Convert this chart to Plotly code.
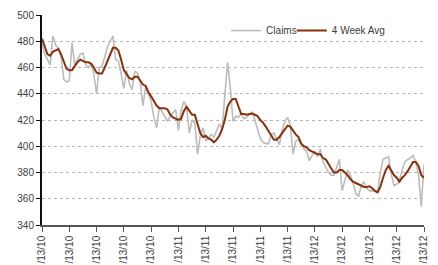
import plotly.graph_objects as go

tick_labels = ["/13/10"] * 5 + ["/13/11"] * 5 + ["/13/12"] * 5
y_ticks = [340, 360, 380, 400, 420, 440, 460, 480, 500]

claims = [478, 470, 466, 462, 484, 477, 475, 468, 451, 449,
          450, 479, 462, 466, 470, 471, 462, 460, 463, 455,
          440, 460, 461, 468, 476, 480, 484, 466, 465, 455,
          444, 458, 448, 443, 457, 456, 449, 431, 446, 440,
          434, 422, 414, 430, 426, 422, 419, 423, 426, 428,
          412, 428, 434, 430, 410, 420, 418, 394, 408, 414,
          404, 406, 409, 407, 412, 417, 413, 441, 464, 445,
          419, 423, 422, 425, 421, 422, 424, 426, 420, 412,
          406, 403, 402, 402, 409, 410, 406, 401, 412, 419,
          422, 416, 394, 404, 405, 401, 398, 396, 389, 393,
          396, 392, 398, 388, 384, 380, 378, 378, 384, 390,
          366, 374, 382, 378, 372, 364, 362, 370, 373, 368,
          366, 366, 366, 364, 380, 390, 391, 392, 379, 370,
          371, 374, 382, 388, 390, 391, 393, 388, 378, 354,
          386]

avg4 = [482, 476, 470, 469, 472, 473, 474, 470, 464, 459,
        458, 458, 461, 464, 466, 465, 464, 464, 463, 460,
        456, 455.5, 455.5, 460, 465, 471, 475, 475, 473, 466,
        458, 455, 452, 451, 453, 453, 450, 447, 446, 441,
        438, 434, 431, 429, 429, 429, 428, 424, 422, 421,
        420, 421, 427, 430, 427, 424, 424, 416, 410, 407,
        408, 406, 405, 403, 405, 408, 413, 420, 430, 434,
        436, 436, 430, 424.5, 424.5, 424, 424.5, 425, 424, 423,
        420, 418, 415, 412, 409, 405, 405, 407, 410, 413,
        415.7, 415, 412, 409, 407, 402, 400, 399, 397, 396,
        395, 394, 394, 391, 390, 386, 383, 380, 380, 382,
        382, 380, 378, 375, 373, 372, 371, 370, 369, 369,
        369.5, 368, 366, 365, 369, 376, 382, 385, 381, 378,
        376, 373, 376, 378, 381, 384, 388, 388, 385, 378,
        376]

weeks = list(range(len(claims)))
tick_pos = [weeks[i] for i in range(0, len(weeks), 10)]

fig = go.Figure()
fig.add_trace(go.Scatter(x=weeks, y=claims, mode="lines", name="Claims",
                         line=dict(color="#bcbcbc", width=1.6), legend="legend"))
fig.add_trace(go.Scatter(x=weeks, y=avg4, mode="lines", name="4 Week Avg",
                         line=dict(color="#8c300c", width=2), legend="legend2"))

leg_common = dict(orientation="h", yanchor="top", xanchor="left", y=0.995,
                  bgcolor="rgba(0,0,0,0)", font=dict(size=10, color="#404040"),
                  itemwidth=30)

fig.update_layout(
    width=430, height=257,
    margin=dict(l=34, r=14, t=7, b=40),
    paper_bgcolor="white", plot_bgcolor="white",
    font=dict(family="Liberation Sans, Arial, sans-serif", size=10, color="#404040"),
    showlegend=True,
    legend=dict(x=0.482, **leg_common),
    legend2=dict(x=0.654, **leg_common),
)
fig.update_xaxes(
    range=[0, len(weeks) - 1], tickmode="array", tickvals=tick_pos, ticktext=tick_labels,
    tickangle=-90, ticks="outside", ticklen=5, tickcolor="#555555",
    showline=True, linecolor="#555555", linewidth=1.5, showgrid=False, zeroline=False,
    tickfont=dict(size=10, color="#404040"), automargin=False,
)
fig.update_yaxes(
    range=[340, 500], tickmode="array", tickvals=y_ticks,
    ticks="outside", ticklen=4, tickcolor="#111111",
    showline=True, linecolor="#111111", linewidth=2,
    showgrid=True, gridcolor="#b8b8b8", gridwidth=1, griddash="3px,3px",
    zeroline=False, tickfont=dict(size=10, color="#404040"), automargin=False,
)

fig.write_html("out.html")
